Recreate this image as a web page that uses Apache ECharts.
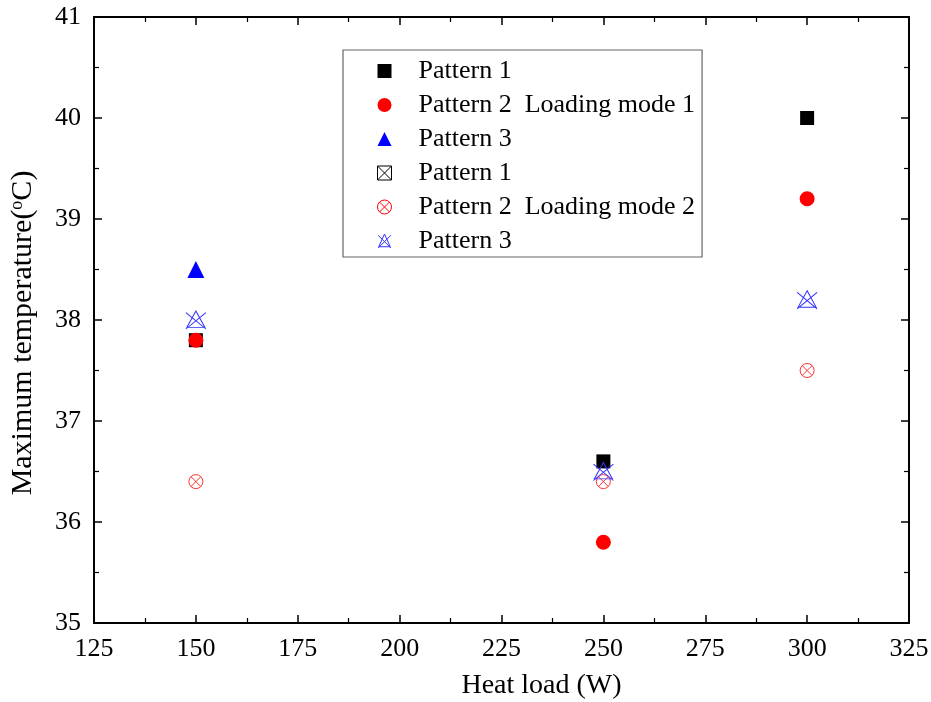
<!DOCTYPE html>
<html>
<head>
<meta charset="utf-8">
<script src="https://cdn.jsdelivr.net/npm/echarts@6/dist/echarts.min.js"></script>
<style>
  html, body { margin: 0; padding: 0; background: #fff; }
  #chart { width: 931px; height: 702px; }
</style>
</head>
<body>
<div id="chart"></div>
<script>
  // data
  const xTicks = [125, 150, 175, 200, 225, 250, 275, 300, 325];
  const p1Mode1 = [[150, 37.8], [250, 36.6], [300, 40.0]];
  const p2Mode1 = [[150, 37.8], [250, 35.8], [300, 39.2]];
  const p3Mode1 = [[150, 38.5]];
  const p1Mode2 = [];
  const p2Mode2 = [[150, 36.4], [250, 36.4], [300, 37.5]];
  const p3Mode2 = [[150, 38.0], [250, 36.5], [300, 38.2]];

  const labels = {
    p1m1: 'Pattern 1',
    p2m1: 'Pattern 2  Loading mode 1',
    p3m1: 'Pattern 3',
    p1m2: 'Pattern 1',
    p2m2: 'Pattern 2  Loading mode 2',
    p3m2: 'Pattern 3'
  };

  const crossSquare = 'path://M0,0 L10,0 L10,10 L0,10 Z M0,0 L10,10 M10,0 L0,10';
  const crossCircle = 'path://M0,5 A5,5 0 1,0 10,5 A5,5 0 1,0 0,5 Z M1.5,1.5 L8.5,8.5 M8.5,1.5 L1.5,8.5';
  const crossTri = 'path://M5,0 L9.5,10 L0.5,10 Z M0,1 L10,11 M10,1 L0,11';

  const font = 'Liberation Serif';

  const chart = echarts.init(document.getElementById('chart'));

  const filled = (name, data, symbol, size, color) => ({
    name, type: 'scatter', data, symbol, symbolSize: size,
    itemStyle: { color, opacity: 1 }
  });
  const open = (name, data, symbol, size, color) => ({
    name, type: 'scatter', data, symbol, symbolSize: size,
    itemStyle: { color: 'none', borderColor: color, borderWidth: 1, opacity: 1 }
  });

  const tickStyle = { inside: true, length: 8, lineStyle: { color: '#000', width: 1.5 } };
  const minorStyle = { show: true, splitNumber: 2, length: 5, lineStyle: { color: '#000', width: 1.2 } };
  const lineStyle = { lineStyle: { color: '#000', width: 2 } };

  chart.setOption({
    animation: false,
    backgroundColor: '#fff',
    textStyle: { fontFamily: font },
    grid: { left: 94, right: 22, top: 17, bottom: 79, outerBoundsMode: 'none', containLabel: false },
    legend: {
      orient: 'vertical',
      left: 343, top: 50,
      padding: [8, 7, 3, 32],
      itemGap: 8,
      itemWidth: 14, itemHeight: 14,
      borderColor: '#666', borderWidth: 1.2,
      backgroundColor: '#fff',
      textStyle: { fontFamily: font, fontSize: 26, lineHeight: 24, color: '#000', padding: [0, 0, 0, 22] },
      formatter: n => labels[n],
      data: [
        { name: 'p1m1', icon: 'rect', itemStyle: { color: '#000' } },
        { name: 'p2m1', icon: 'circle', itemStyle: { color: '#ff0000' } },
        { name: 'p3m1', icon: 'triangle', itemStyle: { color: '#0000ff' } },
        { name: 'p1m2', icon: crossSquare, itemStyle: { color: 'none', borderColor: '#000', borderWidth: 1 } },
        { name: 'p2m2', icon: crossCircle, itemStyle: { color: 'none', borderColor: '#ff0000', borderWidth: 1 } },
        { name: 'p3m2', icon: crossTri, itemStyle: { color: 'none', borderColor: '#3333ff', borderWidth: 1 } }
      ]
    },
    xAxis: [{
      type: 'value',
      min: xTicks[0], max: xTicks[xTicks.length - 1], interval: 25,
      name: 'Heat load (W)',
      nameLocation: 'middle', nameGap: 49,
      nameTextStyle: { fontFamily: font, fontSize: 28, color: '#000', padding: [0, 0, 0, 80] },
      axisLine: lineStyle,
      axisTick: tickStyle,
      minorTick: minorStyle,
      axisLabel: { fontFamily: font, fontSize: 26, color: '#000', margin: 13 },
      splitLine: { show: false }
    }, {
      type: 'value', position: 'top',
      min: xTicks[0], max: xTicks[xTicks.length - 1], interval: 25,
      axisLine: lineStyle,
      axisTick: tickStyle,
      minorTick: minorStyle,
      axisLabel: { show: false },
      splitLine: { show: false }
    }],
    yAxis: [{
      type: 'value',
      min: 35, max: 41, interval: 1,
      name: 'Maximum temperature({sup|o}C)',
      nameLocation: 'middle', nameGap: 56, nameRotate: 90,
      nameTextStyle: {
        fontFamily: font, fontSize: 30, color: '#000', padding: [0, 26, 0, 0],
        rich: { sup: { fontFamily: font, fontSize: 18, verticalAlign: 'top', padding: [0, 0, 12, 0] } }
      },
      axisLine: lineStyle,
      axisTick: tickStyle,
      minorTick: minorStyle,
      axisLabel: { fontFamily: font, fontSize: 26, color: '#000', margin: 13 },
      splitLine: { show: false }
    }, {
      type: 'value', position: 'right',
      min: 35, max: 41, interval: 1,
      axisLine: lineStyle,
      axisTick: tickStyle,
      minorTick: minorStyle,
      axisLabel: { show: false },
      splitLine: { show: false }
    }],
    series: [
      filled('p1m1', p1Mode1, 'rect', 14, '#000'),
      filled('p2m1', p2Mode1, 'circle', 15, '#ff0000'),
      filled('p3m1', p3Mode1, 'triangle', 17, '#0000ff'),
      open('p1m2', p1Mode2, crossSquare, 12, '#000'),
      open('p2m2', p2Mode2, crossCircle, 14, '#ff3333'),
      open('p3m2', p3Mode2, crossTri, [20, 18], '#3333ff')
    ]
  });
</script>
</body>
</html>
